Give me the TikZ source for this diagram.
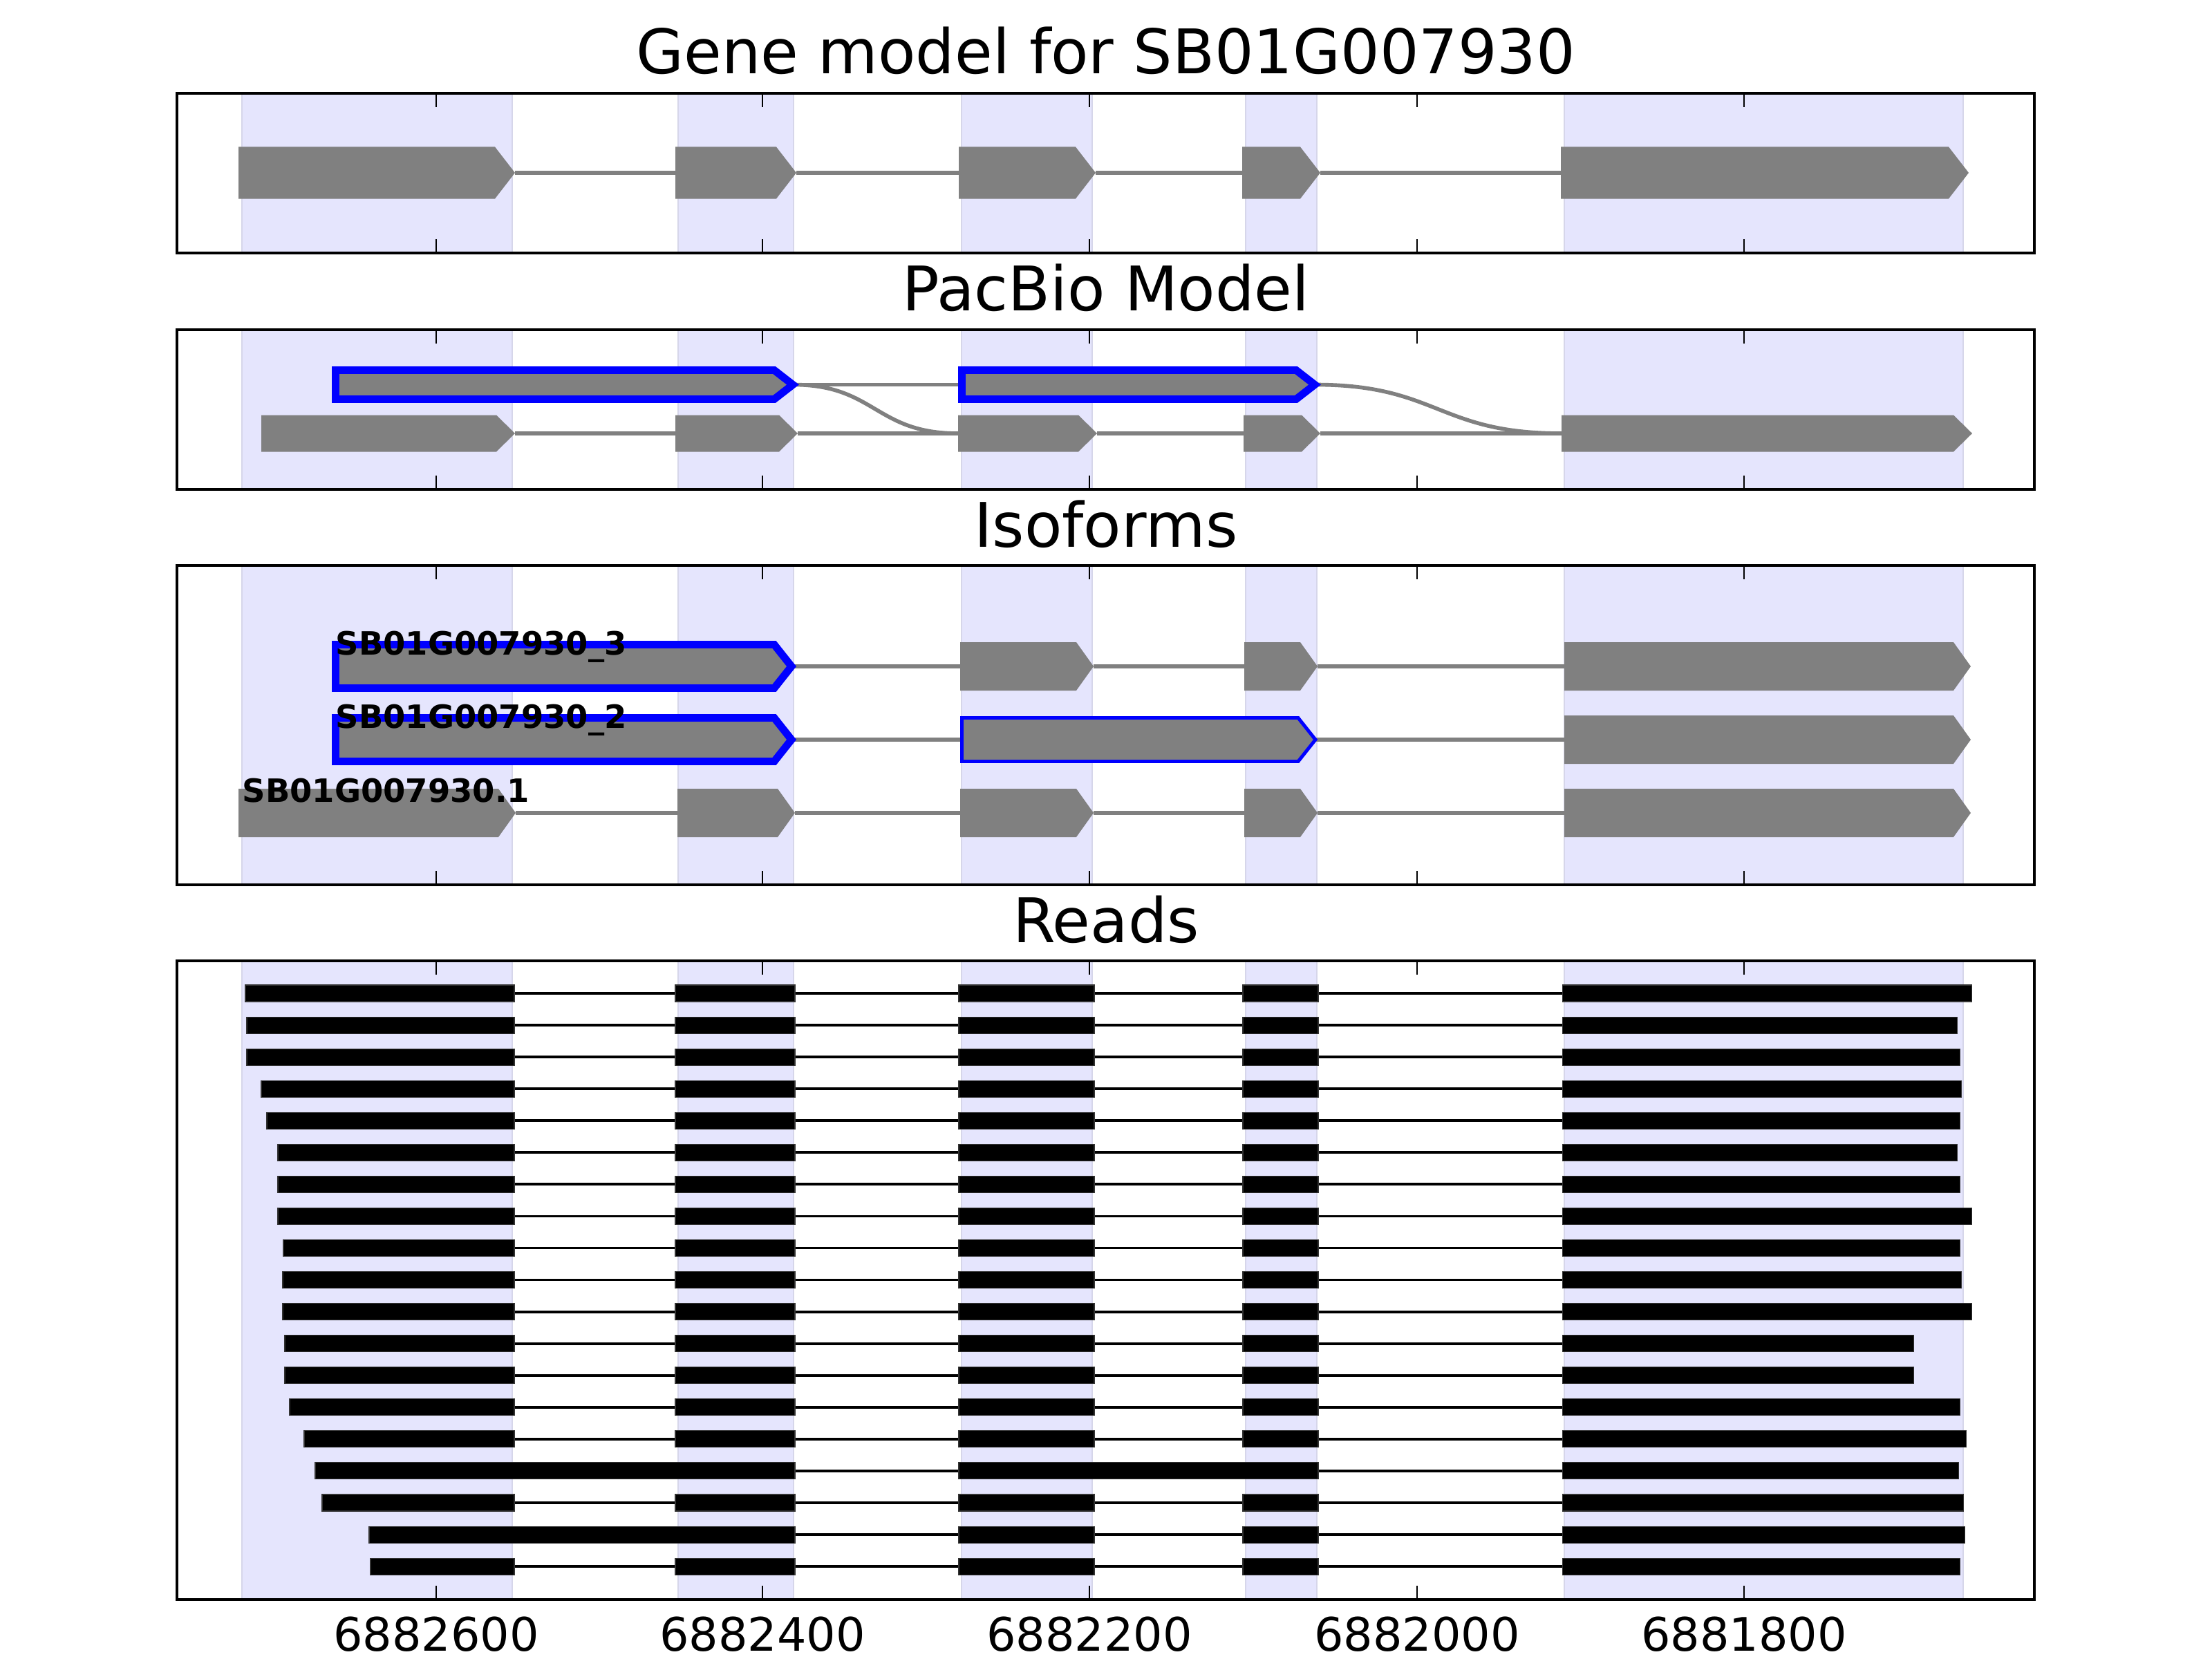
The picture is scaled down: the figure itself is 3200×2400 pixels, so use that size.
\documentclass[tikz,border=0pt]{standalone}
\usepackage{fontspec}
\setmainfont{DejaVu Sans}
\usetikzlibrary{calc}

\definecolor{exongray}{RGB}{128,128,128}
\definecolor{bandfill}{RGB}{229,229,253}
\definecolor{bandedge}{RGB}{214,214,234}

% exon arrow: style, start, tip, centre y, half height, head length
\newcommand\exon[6]{%
  \path[#1] (#2,#4-#5) -- (#3-#6,#4-#5) -- (#3,#4) -- (#3-#6,#4+#5) -- (#2,#4+#5) -- cycle;}

\begin{document}
\begin{tikzpicture}[
  x=0.01cm, y=-0.01cm,
  font=\fontsize{19}{22}\selectfont,
  frame/.style={draw=black, line width=1.3pt},
  tick/.style={draw=black, line width=0.7pt},
  band/.style={fill=bandfill, draw=bandedge, line width=0.5pt},
  intron/.style={draw=exongray, line width=1.6pt},
  exonbox/.style={fill=exongray},
  pickthick/.style={fill=exongray, draw=blue, line width=3.1pt},
  pickthin/.style={fill=exongray, draw=blue, line width=1.4pt},
  readline/.style={draw=black, line width=1.1pt},
  readblock/.style={fill=black, draw=black!80, line width=0.3pt},
  paneltitle/.style={anchor=base, inner sep=0pt, font=\fontsize{25.3}{30}\selectfont},
  isolabel/.style={anchor=base west, inner sep=0pt, font=\fontsize{13.2}{16}\selectfont\bfseries},
  ticklabel/.style={anchor=base, inner sep=0pt}
]
  \useasboundingbox (0,0) rectangle (3200,2400);

  % shaded exon bands, frames and ticks of the four panels
  \foreach \top/\bot in {135/366, 477/708, 818/1280, 1390/2314} {
    \foreach \a/\b in {350/741, 981/1148, 1391/1580, 1802/1905, 2263/2840}
      \path[band] (\a,\top) rectangle (\b,\bot);
    \draw[frame] (256,\top) rectangle (2943,\bot);
    \foreach \t in {631,1103,1576,2050,2523} {
      \draw[tick] (\t,\top) -- (\t,\top+20);
      \draw[tick] (\t,\bot) -- (\t,\bot-20);
    }
  }

  \node[paneltitle] (titlegene) at (1600,107) {Gene model for SB01G007930};
  \node[paneltitle] (titlepacbio) at (1600,449) {PacBio Model};
  \node[paneltitle] (titleiso) at (1600,791) {Isoforms};
  \node[paneltitle] (titlereads) at (1600,1363) {Reads};

  % gene model
  \foreach \a/\b in {745/977, 1152/1387, 1585/1797, 1910/2258}
    \draw[intron] (\a,250) -- (\b,250);
  \foreach \a/\b in {345/745, 977/1152, 1387/1585, 1797/1910, 2258/2848}
    \exon{exonbox}{\a}{\b}{250}{37.5}{29};

  % PacBio model
  \foreach \a/\b in {745/977, 1154/1386, 1587/1799, 1910/2259}
    \draw[intron] (\a,627) -- (\b,627);
  \foreach \a/\b in {378/745, 977/1154, 1386/1587, 1799/1910, 2259/2853}
    \exon{exonbox}{\a}{\b}{627}{26.5}{27};
  \draw[intron] (1147,556.5) -- (1391.5,556.5);
  \draw[intron] (1147,556.5) .. controls (1266,556.5) and (1266,627) .. (1386,627);
  \draw[intron] (1902,556.5) .. controls (2080,556.5) and (2080,627) .. (2259,627);
  \exon{pickthick}{485.5}{1147}{556.5}{21}{27}
  \exon{pickthick}{1391.5}{1902}{556.5}{21}{27}

  % isoforms
  \foreach \a/\b in {1145/1389, 1582/1800, 1906/2263}
    \draw[intron] (\a,964) -- (\b,964);
  \exon{pickthick}{485.5}{1145}{964}{31.5}{25}
  \foreach \a/\b in {1389/1582, 1800/1906, 2263/2851}
    \exon{exonbox}{\a}{\b}{964}{35}{25};

  \foreach \a/\b in {1145/1391.5, 1903/2263}
    \draw[intron] (\a,1070) -- (\b,1070);
  \exon{pickthick}{485.5}{1145}{1070}{31.5}{25}
  \exon{pickthin}{1391.5}{1903}{1070}{31.5}{25}
  \exon{exonbox}{2263}{2851}{1070}{35}{25}

  \foreach \a/\b in {746/980, 1150/1389, 1582/1800, 1906/2263}
    \draw[intron] (\a,1176) -- (\b,1176);
  \foreach \a/\b in {345/746, 980/1150, 1389/1582, 1800/1906, 2263/2851}
    \exon{exonbox}{\a}{\b}{1176}{35}{25};

  \node[isolabel] (iso3) at (485,947) {SB01G007930\_3};
  \node[isolabel] (iso2) at (485,1053) {SB01G007930\_2};
  \node[isolabel] (iso1) at (350,1160) {SB01G007930.1};

  % reads with all five exons
  \foreach \k/\s/\e in {1/355/2852, 2/357/2831, 3/357/2835, 4/378/2837, 5/386/2835,
      6/402/2831, 7/402/2835, 8/402/2852, 9/410/2835, 10/409/2837, 11/409/2852,
      12/412/2768, 13/412/2768, 14/419/2835, 15/440/2844, 17/466/2840, 19/536/2835} {
    \pgfmathsetmacro\yr{1437+46.06*(\k-1)}
    \draw[readline] (\s,\yr) -- (\e,\yr);
    \foreach \a/\b in {\s/744, 977/1150, 1387/1583, 1798/1907, 2260/\e}
      \path[readblock] (\a,\yr-12) rectangle (\b,\yr+12);
  }
  % reads with retained introns
  \pgfmathsetmacro\yr{1437+46.06*15}
  \draw[readline] (456,\yr) -- (2833,\yr);
  \foreach \a/\b in {456/1150, 1387/1907, 2260/2833}
    \path[readblock] (\a,\yr-12) rectangle (\b,\yr+12);
  \pgfmathsetmacro\yr{1437+46.06*17}
  \draw[readline] (534,\yr) -- (2842,\yr);
  \foreach \a/\b in {534/1150, 1387/1583, 1798/1907, 2260/2842}
    \path[readblock] (\a,\yr-12) rectangle (\b,\yr+12);

  \foreach \t/\lab in {631/6882600, 1103/6882400, 1576/6882200, 2050/6882000, 2523/6881800}
    \node[ticklabel] (tick\lab) at (\t,2388) {\lab};
\end{tikzpicture}
\end{document}
